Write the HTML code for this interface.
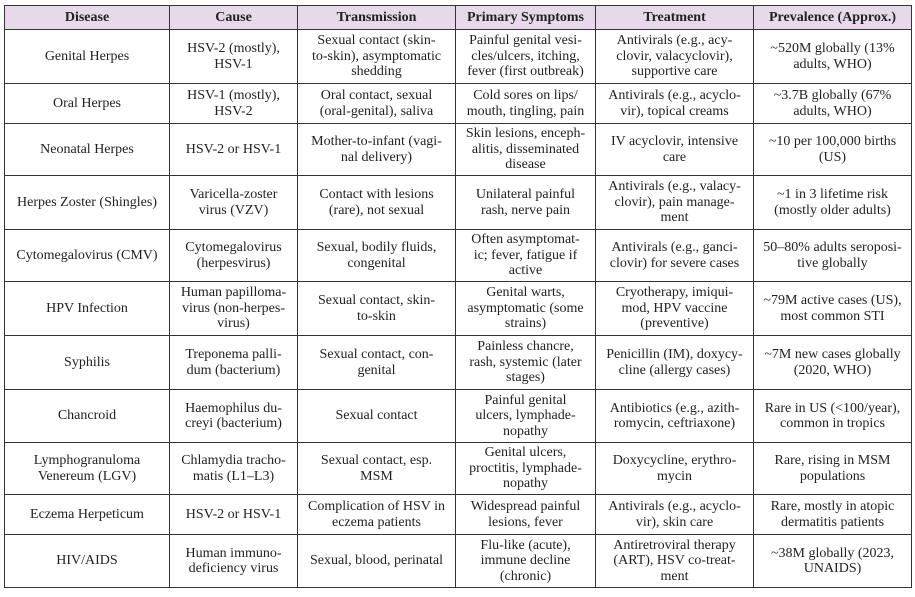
<!DOCTYPE html>
<html><head><meta charset="utf-8"><style>
body{margin:0;background:#fff;width:915px;height:597px;overflow:hidden}
table{position:absolute;left:4px;top:5px;border-collapse:collapse;table-layout:fixed;width:907px;font-family:"Liberation Serif",serif;font-size:14px;line-height:15.5px;color:#222}
td,th{border:1px solid #333;text-align:center;vertical-align:middle;padding:0 1px;overflow:hidden;white-space:nowrap}
th{background:#e5d9ea;font-weight:bold;height:23px;padding:0}
</style></head><body>
<table>
<colgroup><col style="width:165px"><col style="width:128px"><col style="width:158px"><col style="width:140px"><col style="width:158px"><col style="width:158px"></colgroup>
<tr><th>Disease</th><th>Cause</th><th>Transmission</th><th>Primary Symptoms</th><th>Treatment</th><th>Prevalence (Approx.)</th></tr>
<tr style="height:54px"><td>Genital Herpes</td><td>HSV-2 (mostly),<br>HSV-1</td><td>Sexual contact (skin-<br>to-skin), asymptomatic<br>shedding</td><td>Painful genital vesi-<br>cles/ulcers, itching,<br>fever (first outbreak)</td><td>Antivirals (e.g., acy-<br>clovir, valacyclovir),<br>supportive care</td><td>~520M globally (13%<br>adults, WHO)</td></tr>
<tr style="height:40px"><td>Oral Herpes</td><td>HSV-1 (mostly),<br>HSV-2</td><td>Oral contact, sexual<br>(oral-genital), saliva</td><td>Cold sores on lips/<br>mouth, tingling, pain</td><td>Antivirals (e.g., acyclo-<br>vir), topical creams</td><td>~3.7B globally (67%<br>adults, WHO)</td></tr>
<tr style="height:52px"><td>Neonatal Herpes</td><td>HSV-2 or HSV-1</td><td>Mother-to-infant (vagi-<br>nal delivery)</td><td>Skin lesions, enceph-<br>alitis, disseminated<br>disease</td><td>IV acyclovir, intensive<br>care</td><td>~10 per 100,000 births<br>(US)</td></tr>
<tr style="height:54px"><td>Herpes Zoster (Shingles)</td><td>Varicella-zoster<br>virus (VZV)</td><td>Contact with lesions<br>(rare), not sexual</td><td>Unilateral painful<br>rash, nerve pain</td><td>Antivirals (e.g., valacy-<br>clovir), pain manage-<br>ment</td><td>~1 in 3 lifetime risk<br>(mostly older adults)</td></tr>
<tr style="height:52px"><td>Cytomegalovirus (CMV)</td><td>Cytomegalovirus<br>(herpesvirus)</td><td>Sexual, bodily fluids,<br>congenital</td><td>Often asymptomat-<br>ic; fever, fatigue if<br>active</td><td>Antivirals (e.g., ganci-<br>clovir) for severe cases</td><td>50–80% adults seroposi-<br>tive globally</td></tr>
<tr style="height:54px"><td>HPV Infection</td><td>Human papilloma-<br>virus (non-herpes-<br>virus)</td><td>Sexual contact, skin-<br>to-skin</td><td>Genital warts,<br>asymptomatic (some<br>strains)</td><td>Cryotherapy, imiqui-<br>mod, HPV vaccine<br>(preventive)</td><td>~79M active cases (US),<br>most common STI</td></tr>
<tr style="height:54px"><td>Syphilis</td><td>Treponema palli-<br>dum (bacterium)</td><td>Sexual contact, con-<br>genital</td><td>Painless chancre,<br>rash, systemic (later<br>stages)</td><td>Penicillin (IM), doxycy-<br>cline (allergy cases)</td><td>~7M new cases globally<br>(2020, WHO)</td></tr>
<tr style="height:53px"><td>Chancroid</td><td>Haemophilus du-<br>creyi (bacterium)</td><td>Sexual contact</td><td>Painful genital<br>ulcers, lymphade-<br>nopathy</td><td>Antibiotics (e.g., azith-<br>romycin, ceftriaxone)</td><td>Rare in US (&lt;100/year),<br>common in tropics</td></tr>
<tr style="height:52px"><td>Lymphogranuloma<br>Venereum (LGV)</td><td>Chlamydia tracho-<br>matis (L1–L3)</td><td>Sexual contact, esp.<br>MSM</td><td>Genital ulcers,<br>proctitis, lymphade-<br>nopathy</td><td>Doxycycline, erythro-<br>mycin</td><td>Rare, rising in MSM<br>populations</td></tr>
<tr style="height:40px"><td>Eczema Herpeticum</td><td>HSV-2 or HSV-1</td><td>Complication of HSV in<br>eczema patients</td><td>Widespread painful<br>lesions, fever</td><td>Antivirals (e.g., acyclo-<br>vir), skin care</td><td>Rare, mostly in atopic<br>dermatitis patients</td></tr>
<tr style="height:53px"><td>HIV/AIDS</td><td>Human immuno-<br>deficiency virus</td><td>Sexual, blood, perinatal</td><td>Flu-like (acute),<br>immune decline<br>(chronic)</td><td>Antiretroviral therapy<br>(ART), HSV co-treat-<br>ment</td><td>~38M globally (2023,<br>UNAIDS)</td></tr>
</table>
</body></html>
